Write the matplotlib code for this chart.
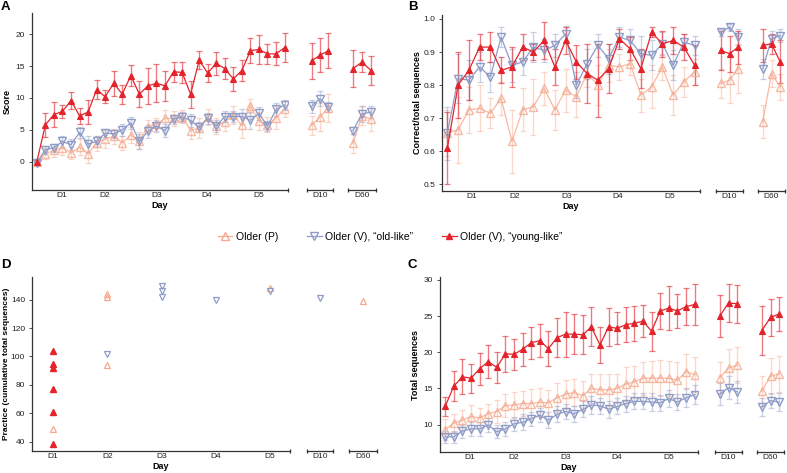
import numpy as np
import matplotlib
matplotlib.use("Agg")
import matplotlib.pyplot as plt
from matplotlib.lines import Line2D
from matplotlib.ticker import FormatStrFormatter

plt.rcParams['font.family'] = ['Liberation Sans', 'DejaVu Sans']

RED = "#e4232b"
ORANGE = "#f5a98e"
BLUE = "#8f9cc7"

labels = ['Older (P)', 'Older (V), \u201cold-like\u201d', 'Older (V), \u201cyoung-like\u201d']
day_labels = ['D1', 'D2', 'D3', 'D4', 'D5']

# ---- Panel A: score
a_red = [0, 5.8, 7.4, 7.9, 9.6, 7.2, 7.8, 11.3, 10.2, 12.3, 10.6, 13.5, 10.6, 11.9, 12.3,
         11.9, 14.1, 14.0, 10.6, 15.9, 13.9, 15.4, 14.6, 13.0, 14.3, 17.4, 17.6, 16.9, 16.9, 17.9]
a_red_err = [0.3, 1.9, 1.9, 1.0, 1.4, 1.2, 1.9, 1.5, 1.0, 2.0, 1.5, 1.6, 2.0, 2.8, 3.0,
             2.4, 1.6, 1.6, 2.1, 1.4, 1.4, 1.8, 1.7, 1.9, 1.6, 2.0, 2.3, 1.6, 1.8, 2.2]
a_blue = [-0.1, 1.9, 2.2, 3.2, 2.7, 4.6, 2.8, 3.2, 4.5, 4.4, 5.0, 6.1, 3.2, 4.8, 5.6,
          4.9, 6.7, 7.0, 6.5, 5.4, 6.8, 5.6, 7.1, 7.1, 7.1, 6.5, 7.6, 5.6, 8.2, 8.9]
a_blue_err = [0.4, 0.6, 0.6, 0.9, 0.9, 0.9, 1.2, 0.8, 0.6, 0.6, 0.9, 1.0, 1.2, 1.0, 0.9,
              1.0, 0.7, 0.8, 1.0, 0.8, 0.9, 1.0, 0.9, 0.8, 1.1, 1.3, 1.0, 0.8, 1.0, 0.8]
a_orange = [0, 1.3, 1.8, 2.2, 1.4, 2.3, 1.3, 2.9, 3.6, 4.0, 3.0, 4.2, 3.3, 5.5, 5.9,
            6.8, 6.8, 7.1, 4.9, 5.3, 7.0, 5.6, 6.3, 7.3, 5.7, 8.8, 6.4, 5.8, 6.9, 8.3]
a_orange_err = [0.3, 0.8, 1.0, 1.2, 1.0, 1.3, 1.5, 1.2, 1.4, 1.2, 1.1, 1.3, 1.3, 1.0, 1.0,
                1.3, 1.2, 1.0, 1.3, 1.5, 1.3, 1.2, 1.4, 1.4, 2.0, 1.1, 1.4, 1.2, 1.8, 1.3]
a_late = {'red': ([15.8, 16.7, 17.4], [2.8, 2.7, 2.7], [14.6, 15.6, 14.3], [2.9, 1.6, 2.3]),
          'blue': ([8.7, 9.9, 8.6], [1.0, 1.2, 0.8], [4.9, 7.5, 7.8], [0.6, 1.2, 1.0]),
          'orange': ([5.7, 7.0, 8.5], [1.5, 2.2, 2.2], [2.9, 7.2, 6.7], [1.5, 1.5, 1.8])}
a_ticks = [2.9, 8.0, 14.0, 19.9, 26.0]

# ---- Panel B: correct/total sequences
b_red = [0.61, 0.80, 0.845, 0.915, 0.915, 0.845, 0.855, 0.915, 0.90, 0.935, 0.855, 0.935,
         0.87, 0.835, 0.815, 0.85, 0.94, 0.91, 0.85, 0.96, 0.925, 0.935, 0.915, 0.86]
b_red_err = [0.11, 0.10, 0.09, 0.04, 0.045, 0.04, 0.06, 0.04, 0.025, 0.055, 0.055, 0.04,
             0.05, 0.09, 0.11, 0.075, 0.03, 0.035, 0.06, 0.015, 0.04, 0.04, 0.04, 0.06]
b_blue = [0.655, 0.82, 0.815, 0.855, 0.825, 0.945, 0.86, 0.87, 0.915, 0.905, 0.92, 0.955,
          0.80, 0.865, 0.92, 0.88, 0.945, 0.935, 0.895, 0.89, 0.925, 0.86, 0.93, 0.92]
b_blue_err = [0.08, 0.075, 0.06, 0.045, 0.045, 0.03, 0.05, 0.04, 0.045, 0.035, 0.035, 0.025,
              0.04, 0.045, 0.035, 0.045, 0.03, 0.035, 0.055, 0.045, 0.035, 0.045, 0.025, 0.03]
b_orange = [0.655, 0.665, 0.725, 0.73, 0.715, 0.76, 0.63, 0.725, 0.735, 0.79, 0.725, 0.785,
            0.765, 0.835, 0.80, 0.86, 0.855, 0.865, 0.77, 0.795, 0.855, 0.77, 0.81, 0.84]
b_orange_err = [0.07, 0.10, 0.07, 0.07, 0.045, 0.05, 0.095, 0.065, 0.085, 0.05, 0.06, 0.065,
                0.06, 0.04, 0.06, 0.05, 0.04, 0.035, 0.05, 0.065, 0.04, 0.06, 0.045, 0.04]
b_late = {'red': ([0.905, 0.895, 0.915], [0.06, 0.055, 0.05], [0.92, 0.925, 0.87], [0.05, 0.03, 0.065]),
          'blue': ([0.96, 0.975, 0.945], [0.01, 0.01, 0.025], [0.85, 0.94, 0.95], [0.03, 0.025, 0.02]),
          'orange': ([0.805, 0.815, 0.85], [0.045, 0.07, 0.075], [0.69, 0.835, 0.795], [0.05, 0.04, 0.04])}
b_ticks = [2.27, 6.3, 11.06, 15.88, 20.7]

# ---- Panel C: total sequences
c_red = [12.5, 15.3, 16.6, 16.4, 17.7, 18.7, 17.9, 19.8, 19.7, 20.4, 21.3, 21.6, 20.5, 22.0, 22.5,
         22.5, 22.4, 23.5, 21.0, 23.5, 23.3, 23.8, 24.0, 24.3, 22.9, 25.7, 26.1, 25.7, 26.3, 26.6]
c_red_err = [1.3, 2.1, 2.4, 2.0, 2.2, 2.3, 2.1, 2.5, 2.1, 2.3, 2.2, 2.3, 2.4, 2.7, 3.1,
             2.8, 2.7, 2.7, 2.5, 2.6, 2.2, 2.4, 2.4, 2.2, 2.7, 2.5, 3.0, 2.4, 2.6, 2.8]
c_blue = [8.3, 8.3, 9.1, 9.4, 9.4, 9.9, 9.0, 9.4, 10.1, 10.3, 10.8, 11.3, 10.6, 11.4, 11.8,
          11.5, 12.1, 12.7, 12.6, 12.1, 12.5, 12.9, 13.2, 13.2, 13.1, 13.0, 13.6, 13.1, 13.7, 14.1]
c_blue_err = [0.8, 0.8, 0.9, 1.0, 1.0, 1.0, 0.9, 1.0, 1.0, 1.1, 1.0, 1.0, 1.1, 1.1, 1.1,
              1.1, 1.1, 1.2, 1.1, 1.2, 1.1, 1.1, 1.1, 1.1, 1.2, 1.1, 1.2, 1.1, 1.3, 1.3]
c_orange = [9.3, 10.2, 10.6, 11.1, 10.9, 11.5, 11.8, 12.6, 12.7, 12.9, 12.9, 13.1, 13.0, 13.7, 14.2,
            14.4, 14.0, 15.0, 14.8, 14.8, 15.0, 15.6, 15.9, 16.4, 16.4, 16.4, 16.4, 16.1, 17.3, 16.9]
c_orange_err = [1.4, 1.3, 1.4, 1.6, 1.4, 1.4, 1.6, 1.6, 1.8, 1.7, 2.0, 2.0, 1.8, 2.0, 2.0,
                1.9, 2.0, 2.0, 2.2, 2.2, 2.0, 2.4, 2.2, 2.3, 2.4, 2.5, 2.4, 2.5, 2.4, 2.4]
c_late = {'red': ([25.0, 26.8, 26.7], [2.9, 2.6, 2.6], [23.0, 24.8, 25.3], [3.4, 2.6, 2.4]),
          'blue': ([14.2, 15.1, 14.5], [1.5, 1.6, 1.5], [12.4, 13.3, 13.1], [1.2, 1.0, 1.2]),
          'orange': ([16.5, 17.8, 18.2], [2.2, 2.7, 2.5], [14.6, 16.7, 17.0], [2.1, 2.5, 2.5])}
c_ticks = a_ticks

# ---- Panel D: practice (cumulative total sequences) at criterion day
d_red_day = [1, 1, 1, 1, 1, 1]
d_red_val = [104, 95, 92, 77, 61, 38]
d_orange_day = [1, 2, 2, 2, 5]
d_orange_val = [49, 144, 142, 94, 148]
d_blue_day = [2, 3, 3, 3, 4, 5]
d_blue_val = [102, 149.5, 146, 142, 140, 146]
d10_blue = [141.5]
d60_orange = [139]

STYLE = {
    'orange': dict(color=ORANGE, marker='^', mfc='none', ms=6, mew=1.0, line_alpha=0.8, err_alpha=0.45),
    'blue': dict(color=BLUE, marker='v', mfc='none', ms=6, mew=1.0, line_alpha=1.0, err_alpha=0.45),
    'red': dict(color=RED, marker='^', mfc=RED, ms=5, mew=0.8, line_alpha=1.0, err_alpha=0.6),
}
SPINE = "#333333"
TICK_FS = 6
LABEL_FS = 6.5


def draw_series(ax, y, err, key):
    s = STYLE[key]
    x = np.arange(len(y))
    ax.errorbar(x, y, yerr=err, fmt='none', ecolor=s['color'], elinewidth=1.0,
                capsize=2.2, capthick=0.9, alpha=s['err_alpha'], zorder=2)
    ax.plot(x, y, color=s['color'], lw=0.9, alpha=s['line_alpha'], marker=s['marker'],
            mfc=s['mfc'], mec=s['color'], ms=s['ms'], mew=s['mew'], zorder=3)


def style_axis(ax, ylim, show_left, ends):
    ax.set_ylim(*ylim)
    for sp in ['top', 'right']:
        ax.spines[sp].set_visible(False)
    for sp in ['bottom', 'left']:
        ax.spines[sp].set_color(SPINE)
        ax.spines[sp].set_linewidth(0.9)
    ax.tick_params(axis='x', length=0, labelsize=TICK_FS, pad=1.5, colors='#222222')
    ax.tick_params(axis='y', length=2, width=0.6, labelsize=TICK_FS, pad=3, colors='#222222', color=SPINE)
    if not show_left:
        ax.spines['left'].set_visible(False)
        ax.set_yticks([])
    ax.plot(ends, [0] * len(ends), transform=ax.transAxes, ls='none', marker='|',
            ms=3.5, mew=0.9, color=SPINE, clip_on=False)
    ax.set_facecolor('none')


fig = plt.figure(figsize=(7.87, 4.73), dpi=100)


def fig_box(x0, x1, ytop, ybot):
    return [x0 / 787, 1 - ybot / 473, (x1 - x0) / 787, (ybot - ytop) / 473]


def letter(x, y, s):
    fig.text(x / 787, 1 - y / 473, s, fontsize=9.5, fontweight='bold', va='center', ha='left')


def day_label(ax):
    ax.annotate('Day', xy=(0.5, 0), xycoords='axes fraction', xytext=(0, -8),
                textcoords='offset points', ha='center', va='top', fontsize=LABEL_FS, fontweight='bold')


def time_panel(boxes, data, late, ticks, ylim, yticks, ylabel, xlim_main):
    main = fig.add_axes(fig_box(*boxes[0]))
    for key in ['orange', 'blue', 'red']:
        draw_series(main, data[key][0], data[key][1], key)
    main.set_xlim(*xlim_main)
    main.set_xticks(ticks)
    main.set_xticklabels(day_labels)
    main.set_yticks(yticks)
    style_axis(main, ylim, True, [1])
    main.set_ylabel(ylabel, fontsize=LABEL_FS, fontweight='bold')
    main.yaxis.set_label_coords(-0.078, 0.5)
    for i, lab in enumerate(['D10', 'D60']):
        sub = fig.add_axes(fig_box(*boxes[i + 1]))
        for key in ['orange', 'blue', 'red']:
            vals = late[key]
            draw_series(sub, vals[2 * i], vals[2 * i + 1], key)
        sub.set_xlim(-0.55, 2.55)
        sub.set_xticks([1])
        sub.set_xticklabels([lab])
        style_axis(sub, ylim, False, [0, 1])
    day_label(main)
    return main


axA = time_panel([(31.7, 288, 13, 190), (307, 333, 13, 190), (348, 376, 13, 190)],
                 {'red': (a_red, a_red_err), 'blue': (a_blue, a_blue_err), 'orange': (a_orange, a_orange_err)},
                 a_late, a_ticks, (-4.4, 23.3), [0, 5, 10, 15, 20], 'Score', (-0.6, 29.4))
axB = time_panel([(442, 700, 15, 191), (716, 743, 15, 191), (758, 785, 15, 191)],
                 {'red': (b_red, b_red_err), 'blue': (b_blue, b_blue_err), 'orange': (b_orange, b_orange_err)},
                 b_late, b_ticks, (0.48, 1.012), [0.5, 0.6, 0.7, 0.8, 0.9, 1.0], 'Correct/total sequences',
                 (-0.5, 23.5))
axB.yaxis.set_major_formatter(FormatStrFormatter('%.1f'))
axC = time_panel([(440, 698, 277, 452), (715, 742, 277, 452), (757, 784, 277, 452)],
                 {'red': (c_red, c_red_err), 'blue': (c_blue, c_blue_err), 'orange': (c_orange, c_orange_err)},
                 c_late, c_ticks, (6.2, 30.4), [10, 15, 20, 25, 30], 'Total sequences', (-0.6, 29.4))

# ---- Panel D
axD = fig.add_axes(fig_box(32, 290, 277, 451))
axD.plot(d_orange_day, d_orange_val, ls='none', marker='^', mfc='none', mec=ORANGE, ms=5, mew=0.9)
axD.plot(d_blue_day, d_blue_val, ls='none', marker='v', mfc='none', mec=BLUE, ms=5, mew=0.9)
axD.plot(d_red_day, d_red_val, ls='none', marker='^', color=RED, ms=5)
axD.set_xlim(0.61, 5.37)
axD.set_xticks([1, 2, 3, 4, 5])
axD.set_xticklabels(day_labels)
axD.set_yticks([40, 60, 80, 100, 120, 140])
style_axis(axD, (33.4, 156), True, [1])
axD.set_ylabel('Practice (cumulative total sequences)', fontsize=6, fontweight='bold')
axD.yaxis.set_label_coords(-0.085, 0.5)
day_label(axD)
for box, lab, vals, key in [((307, 333, 277, 451), 'D10', d10_blue, 'blue'),
                            ((349, 377, 277, 451), 'D60', d60_orange, 'orange')]:
    sub = fig.add_axes(fig_box(*box))
    s = STYLE[key]
    sub.plot([0] * len(vals), vals, ls='none', marker=s['marker'], mfc='none', mec=s['color'], ms=5, mew=0.9)
    sub.set_xlim(-1, 1)
    sub.set_xticks([0])
    sub.set_xticklabels([lab])
    style_axis(sub, (33.4, 156), False, [0, 1])

letter(1, 7, 'A')
letter(408, 7, 'B')
letter(408, 265, 'C')
letter(1, 265, 'D')

# ---- legend
handles = [Line2D([], [], color=ORANGE, marker='^', mfc='none', mec=ORANGE, ms=6, lw=0.9),
           Line2D([], [], color=BLUE, marker='v', mfc='none', mec=BLUE, ms=6, lw=0.9),
           Line2D([], [], color=RED, marker='^', mfc=RED, ms=5, lw=0.9)]
fig.legend(handles, labels, loc='center', bbox_to_anchor=(390 / 787, 1 - 237 / 473), ncol=3,
           frameon=False, fontsize=7.5, handlelength=1.4, handletextpad=0.3, columnspacing=2.8)

fig.savefig('out.png', dpi=100)
